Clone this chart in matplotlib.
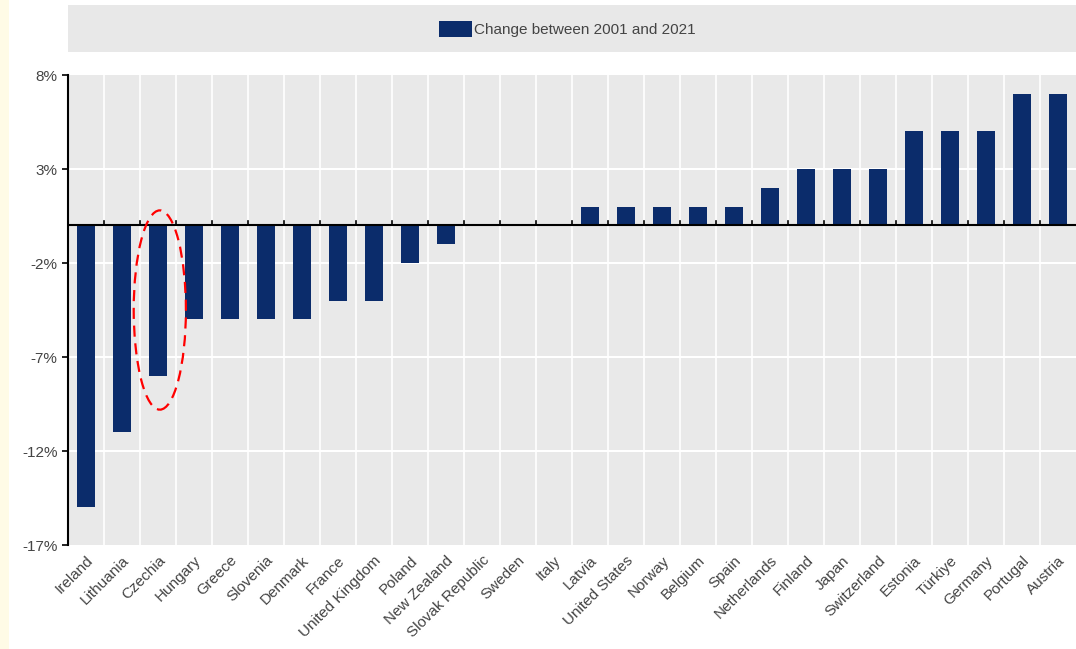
import numpy as np
import matplotlib
matplotlib.use('Agg')
import matplotlib.pyplot as plt
from matplotlib.patches import Ellipse, Rectangle

countries = ['Ireland', 'Lithuania', 'Czechia', 'Hungary', 'Greece', 'Slovenia',
             'Denmark', 'France', 'United Kingdom', 'Poland', 'New Zealand',
             'Slovak Republic', 'Sweden', 'Italy', 'Latvia', 'United States',
             'Norway', 'Belgium', 'Spain', 'Netherlands', 'Finland', 'Japan',
             'Switzerland', 'Estonia', 'Türkiye', 'Germany', 'Portugal', 'Austria']
change = [-15, -11, -8, -5, -5, -5, -5, -4, -4, -2, -1, 0, 0, 0,
          1, 1, 1, 1, 1, 2, 3, 3, 3, 5, 5, 5, 7, 7]
yticks = [8, 3, -2, -7, -12, -17]
ytick_labels = ['8%', '3%', '-2%', '-7%', '-12%', '-17%']
legend_label = 'Change between 2001 and 2021'

bar_color = '#0b2c6b'
text_color = '#444444'

plt.rcParams['font.family'] = ['Liberation Sans Narrow', 'Liberation Sans', 'DejaVu Sans']

fig = plt.figure(figsize=(10.76, 6.49), dpi=100)
fig.patch.set_facecolor('white')
# pale strip on the left edge
fig.patches.append(Rectangle((0, 0), 0.008, 1, transform=fig.transFigure,
                             facecolor='#fffbe6', edgecolor='none', zorder=0))
# legend band
fig.patches.append(Rectangle((0.0632, 0.92), 0.9368, 0.072, transform=fig.transFigure,
                             facecolor='#e8e8e8', edgecolor='none', zorder=0))

ax = fig.add_axes([0.0632, 0.1602, 0.9368, 0.7242])
ax.set_facecolor('#e9e9e9')

x = np.arange(len(countries))
bars = ax.bar(x, change, width=0.5, color=bar_color, zorder=3, label=legend_label)

ax.set_xlim(-0.5, len(countries) - 0.5)
ax.set_ylim(-17, 8)

# white grid: vertical between categories, horizontal at ticks
for b in np.arange(0.5, len(countries) - 0.5, 1):
    ax.axvline(b, color='white', lw=1.2, zorder=1)
for t in yticks[1:-1]:
    ax.axhline(t, color='white', lw=1.5, zorder=1)

# zero line with small category ticks
ax.axhline(0, color='black', lw=1.5, zorder=4)
for b in np.arange(0.5, len(countries) - 0.5, 1):
    ax.plot([b, b], [0, 0.25], color='black', lw=1.2, zorder=4)

for s in ['top', 'right', 'bottom']:
    ax.spines[s].set_visible(False)
ax.spines['left'].set_color('black')
ax.spines['left'].set_linewidth(1.5)

ax.set_yticks(yticks)
ax.set_yticklabels(ytick_labels, color=text_color, fontsize=11)
ax.tick_params(axis='y', length=4, width=1.2, color='black')

ax.set_xticks(x)
ax.set_xticklabels(countries, rotation=45, ha='right', rotation_mode='anchor',
                   color=text_color, fontsize=11)
ax.tick_params(axis='x', length=0, pad=6)

# highlight Czechia
ax.add_patch(Ellipse((2.05, -4.5), width=1.45, height=10.6, fill=False,
                     edgecolor='red', lw=1.6, linestyle=(0, (5, 3)), zorder=5))

fig.legend(handles=[bars], labels=[legend_label], loc='center',
           bbox_to_anchor=(0.527, 0.955), frameon=False, fontsize=11,
           handlelength=2.2, handleheight=1.2, handletextpad=0.1,
           labelcolor=text_color)

fig.savefig('out.png', dpi=100)
